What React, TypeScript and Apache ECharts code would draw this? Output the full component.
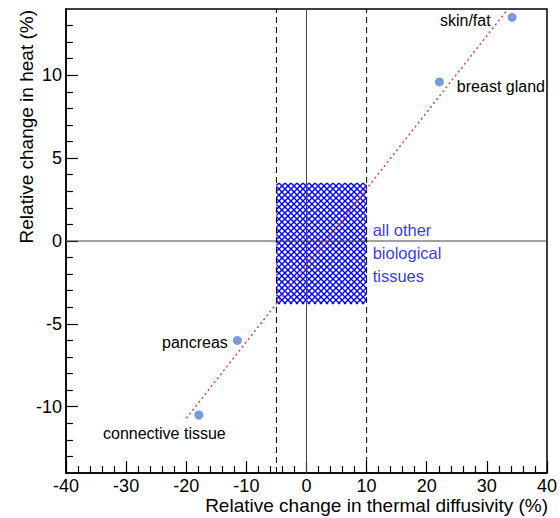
import React, { useEffect, useRef } from "react";
import * as echarts from "echarts";

// ---- data ----
const tissueNames = ["skin/fat", "breast gland", "pancreas", "connective tissue"];
const diffusivityChange = [34.2, 22.1, -11.5, -17.9];
const heatChange = [13.5, 9.6, -6.0, -10.5];

const fitLineX = [-20, 33.5];
const fitLineY = [-10.7, 14.0];

const boundaryX = [-5, 10];
const boxX = [-5, 10];
const boxY = [-3.8, 3.5];

const otherTissueText = "all other\nbiological\ntissues";
const otherTissuePos = [11.0, -0.72];

const xRange = [-40, 40];
const xStep = 10;
const yRange = [-14, 14];
const yMajorTicks = [-10, -5, 0, 5, 10];
const yMinorTicks = [-13, -12, -11, -9, -8, -7, -6, -4, -3, -2, -1, 1, 2, 3, 4, 6, 7, 8, 9, 11, 12, 13];

const xTitle = "Relative change in thermal diffusivity (%)";
const yTitle = "Relative change in heat (%)";

// ---- label placement (style only) ----
const labelPlacement: any[] = [
  { position: "left", distance: 17, offset: [0, 3] },
  { position: "right", distance: 13, offset: [0, 5] },
  { position: "left", distance: 5, offset: [0, 2] },
  { position: "bottom", distance: 6, offset: [-34.5, 0] },
];

const FONT = "'Liberation Sans', Arial, Helvetica, sans-serif";
const HATCH_GAP = 6;

function hatchLines(x0: number, y0: number, x1: number, y1: number) {
  const lines: any[] = [];
  const style = { stroke: "#0000ff", lineWidth: 1.4 };
  // slope +1 (screen): y - x = k
  const kStart = Math.ceil((y0 - x1) / HATCH_GAP) * HATCH_GAP;
  for (let k = kStart; k <= y1 - x0; k += HATCH_GAP) {
    const xa = Math.max(x0, y0 - k);
    const xb = Math.min(x1, y1 - k);
    if (xb > xa) lines.push({ type: "line", shape: { x1: xa, y1: xa + k, x2: xb, y2: xb + k }, style });
  }
  // slope -1: y + x = k
  const mStart = Math.ceil((x0 + y0) / HATCH_GAP) * HATCH_GAP;
  for (let k = mStart; k <= x1 + y1; k += HATCH_GAP) {
    const xa = Math.max(x0, k - y1);
    const xb = Math.min(x1, k - y0);
    if (xb > xa) lines.push({ type: "line", shape: { x1: xa, y1: k - xa, x2: xb, y2: k - xb }, style });
  }
  return lines;
}

export default function App() {
  const ref = useRef<HTMLDivElement>(null);

  useEffect(() => {
    if (!ref.current) return;
    const chart = echarts.init(ref.current, undefined, { renderer: "svg" });

    const series: any[] = [];

    // hatched box
    series.push({
      type: "custom",
      z: 1,
      silent: true,
      data: [[boxX[0], boxY[0], boxX[1], boxY[1]]],
      encode: { x: [0, 2], y: [1, 3] },
      renderItem: (params: any, api: any) => {
        const p1 = api.coord([api.value(0), api.value(3)]);
        const p2 = api.coord([api.value(2), api.value(1)]);
        return {
          type: "group",
          children: hatchLines(p1[0], p1[1], p2[0], p2[1]),
        };
      },
    });

    // zero lines
    series.push({
      type: "line",
      z: 2,
      silent: true,
      symbol: "none",
      data: [
        [xRange[0], 0],
        [xRange[1], 0],
      ],
      lineStyle: { color: "#444", width: 1 },
    });
    series.push({
      type: "line",
      z: 2,
      silent: true,
      symbol: "none",
      data: [
        [0, yRange[0]],
        [0, yRange[1]],
      ],
      lineStyle: { color: "#444", width: 1 },
    });

    // dashed boundaries
    boundaryX.forEach((bx) => {
      series.push({
        type: "line",
        z: 3,
        silent: true,
        symbol: "none",
        data: [
          [bx, yRange[0]],
          [bx, yRange[1]],
        ],
        lineStyle: { color: "#000", width: 1, type: [6, 4] },
      });
    });

    // fit line
    series.push({
      type: "line",
      z: 4,
      silent: true,
      symbol: "none",
      data: fitLineX.map((x, i) => [x, fitLineY[i]]),
      lineStyle: { color: "#dd4444", width: 1.5, type: [2, 3] },
    });

    // tissue points
    series.push({
      type: "scatter",
      z: 5,
      symbolSize: 9,
      itemStyle: { color: "#7799dd", opacity: 1 },
      data: tissueNames.map((n, i) => ({
        name: n,
        value: [diffusivityChange[i], heatChange[i]],
        label: {
          show: true,
          formatter: n,
          color: "#000",
          fontSize: 16,
          fontFamily: FONT,
          ...labelPlacement[i],
        },
      })),
    });

    // other tissues annotation
    series.push({
      type: "scatter",
      z: 5,
      silent: true,
      symbolSize: 0,
      data: [otherTissuePos],
      label: {
        show: true,
        position: "right",
        distance: 0,
        formatter: otherTissueText,
        color: "#0000ff",
        fontSize: 16.5,
        lineHeight: 23,
        fontFamily: FONT,
        align: "left",
      },
    });

    chart.setOption({
      animation: false,
      backgroundColor: "#fff",
      grid: {
        left: 66,
        right: 12,
        top: 9,
        bottom: 45,
        show: true,
        borderColor: "#000",
        borderWidth: 1.5,
        backgroundColor: "transparent",
      },
      xAxis: {
        type: "value",
        min: xRange[0],
        max: xRange[1],
        interval: xStep,
        position: "bottom",
        axisLine: { show: true, onZero: false, lineStyle: { color: "#000", width: 1.5 } },
        axisTick: { show: true, inside: true, length: 12, lineStyle: { color: "#000", width: 1.2 } },
        minorTick: { show: true, splitNumber: 5, length: 7, lineStyle: { color: "#000", width: 1.2 } },
        axisLabel: { color: "#000", fontSize: 18, lineHeight: 18, fontFamily: FONT, margin: 4 },
        splitLine: { show: false },
      },
      yAxis: [
        {
          type: "value",
          min: yRange[0],
          max: yRange[1],
          position: "left",
          axisLine: { show: true, onZero: false, lineStyle: { color: "#000", width: 1.5 } },
          axisTick: {
            show: true,
            inside: true,
            length: 12,
            customValues: yMajorTicks,
            lineStyle: { color: "#000", width: 1.2 },
          },
          axisLabel: {
            color: "#000",
            fontSize: 18,
            fontFamily: FONT,
            margin: 4,
            customValues: yMajorTicks,
          },
          splitLine: { show: false },
        },
        {
          type: "value",
          min: yRange[0],
          max: yRange[1],
          position: "left",
          axisLine: { show: false, onZero: false },
          axisTick: {
            show: true,
            inside: true,
            length: 7,
            customValues: yMinorTicks,
            lineStyle: { color: "#000", width: 1.2 },
          },
          axisLabel: { show: false },
          splitLine: { show: false },
        },
      ],
      graphic: [
        {
          type: "text",
          right: 12,
          top: 496,
          style: { text: xTitle, fill: "#000", font: `19px ${FONT}`, lineHeight: 19, align: "right" },
        },
        {
          type: "text",
          x: 26,
          y: 10,
          rotation: Math.PI / 2,
          style: {
            text: yTitle,
            fill: "#000",
            font: `19px ${FONT}`,
            align: "right",
            verticalAlign: "middle",
          },
        },
      ],
      series,
    });

    return () => chart.dispose();
  }, []);

  return (
    <div
      ref={ref}
      style={{ position: "absolute", left: 0, top: 0, width: 560, height: 518, background: "#fff" }}
    />
  );
}
